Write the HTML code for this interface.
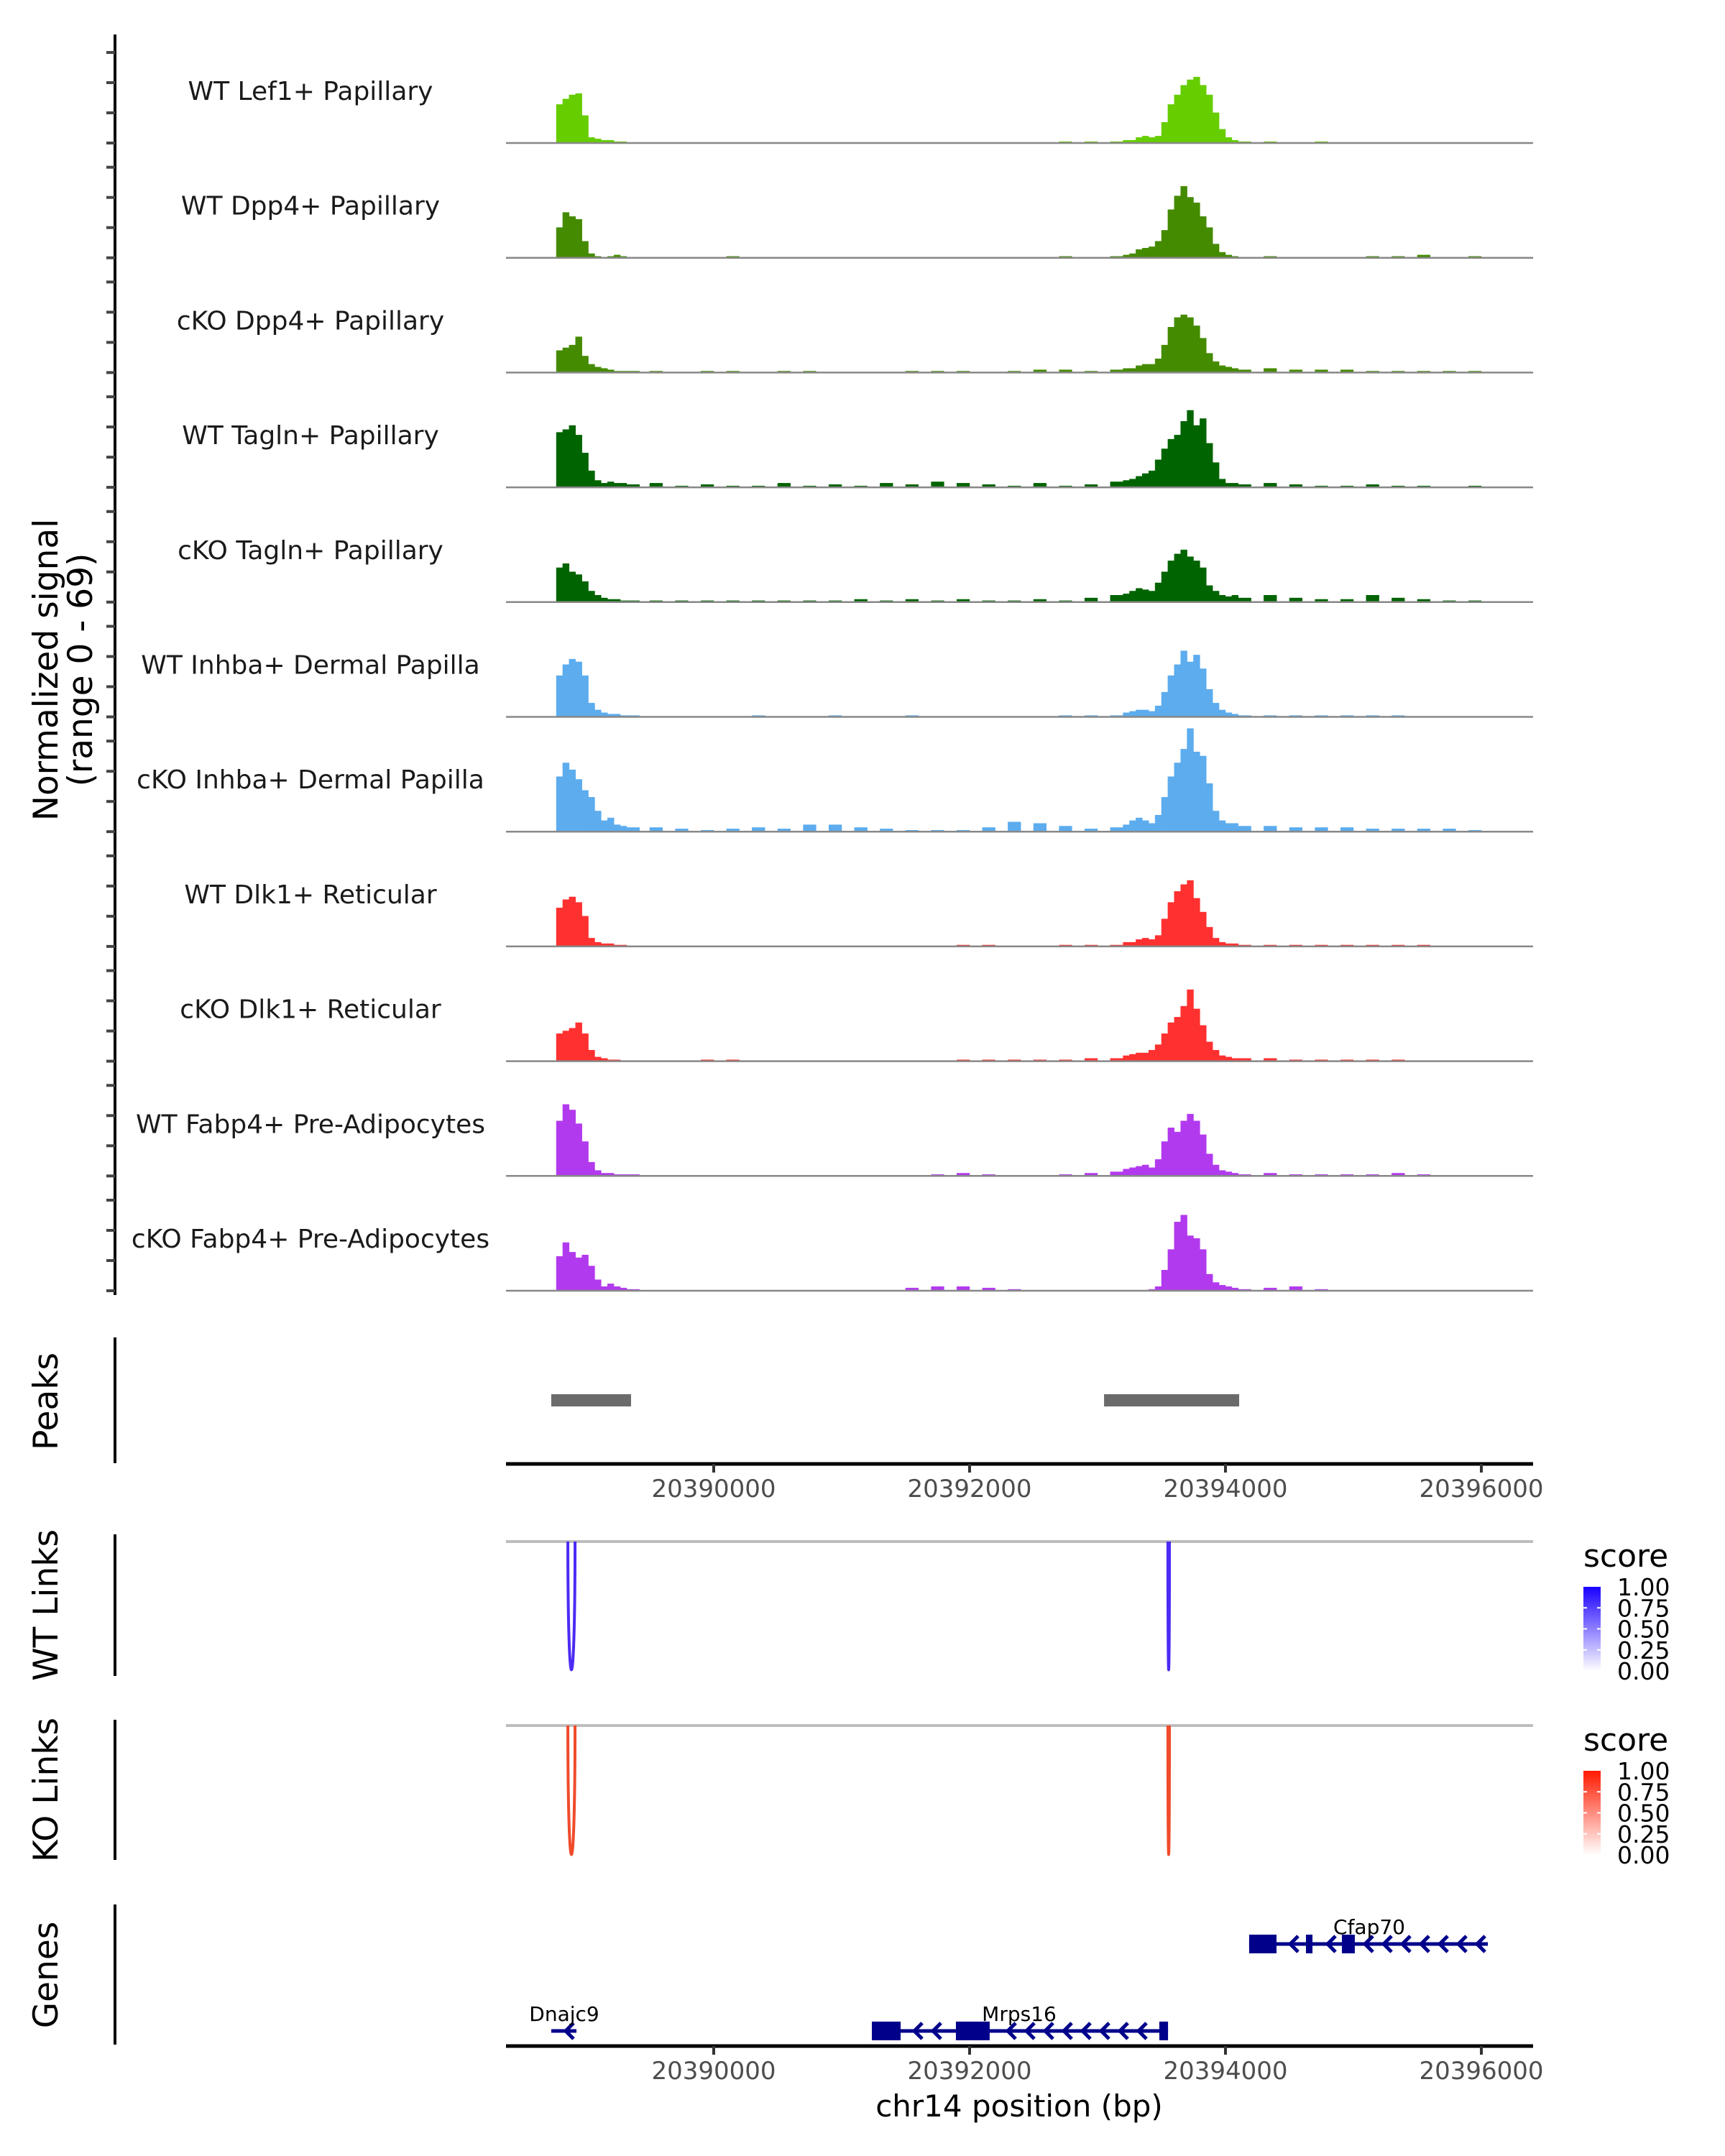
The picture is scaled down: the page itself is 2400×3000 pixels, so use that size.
<!DOCTYPE html>
<html><head><meta charset="utf-8"><title>Coverage plot</title>
<style>html,body{margin:0;padding:0;background:#fff}svg{display:block;font-family:"DejaVu Sans","Liberation Sans",sans-serif}</style>
</head><body>
<svg id="chart" xmlns="http://www.w3.org/2000/svg" width="2400" height="3000" viewBox="0 0 2400 3000"></svg>
<script>
// ---- data ----
const trackNames = ["WT Lef1+ Papillary","WT Dpp4+ Papillary","cKO Dpp4+ Papillary","WT Tagln+ Papillary","cKO Tagln+ Papillary","WT Inhba+ Dermal Papilla","cKO Inhba+ Dermal Papilla","WT Dlk1+ Reticular","cKO Dlk1+ Reticular","WT Fabp4+ Pre-Adipocytes","cKO Fabp4+ Pre-Adipocytes"];
const trackColors = ["#66CD00","#458B00","#458B00","#006400","#006400","#5CACEE","#5CACEE","#FF3030","#FF3030","#B23AEE","#B23AEE"];
const binStarts = [20388770,20388820,20388870,20388920,20388970,20389020,20389070,20389120,20389170,20389220,20389270,20389320,
 20389500,20389700,20389900,20390100,20390300,20390500,20390700,20390900,20391100,20391300,20391500,20391700,20391900,20392100,20392300,20392500,20392700,20392900,20393100,
 20393200,20393250,20393300,20393350,20393400,20393450,20393500,20393550,20393600,20393650,20393700,20393750,20393800,20393850,20393900,20393950,20394000,20394050,20394100,
 20394300,20394500,20394700,20394900,20395100,20395300,20395500,20395700,20395900,20396000];
const sig0 = [28,32,35,36,20,4,3,2,2,1,1,0, 0,0,0,0,0,0,0,0,0,0,0,0,0,0,0,0,1,1,1, 2,2,4,5,4,5,15,28,35,42,46,48,42,35,22,10,4,2,1, 1,0,1,0,0,0,0,0,0,0];
const sig1 = [22,33,30,28,12,3,1,0,1,2,1,0, 0,0,0,1,0,0,0,0,0,0,0,0,0,0,0,0,1,0,1, 2,3,6,7,8,12,20,35,45,52,44,40,30,22,10,4,2,1,0, 1,0,0,0,1,1,2,0,1,0];
const sig2 = [16,18,20,26,12,6,4,3,2,1,1,1, 1,0,1,1,0,1,1,0,0,0,1,1,1,0,1,2,2,1,2, 3,3,5,6,6,10,20,33,40,42,40,34,25,14,8,5,4,3,2, 3,2,2,2,1,1,1,1,1,0];
const sig3 = [40,42,45,38,25,12,5,3,4,3,3,2, 3,1,2,1,1,3,1,2,1,3,2,4,3,2,1,3,1,2,4, 5,6,8,10,12,20,28,35,38,48,56,45,50,32,18,6,3,3,2, 3,2,1,1,2,1,1,0,1,0];
const sig4 = [25,28,22,20,15,8,5,3,2,2,1,1, 1,1,1,1,1,1,1,1,2,1,2,1,2,1,1,2,1,3,5, 6,8,10,9,8,14,22,30,35,38,33,30,25,12,8,5,4,5,3, 5,3,2,2,5,3,2,1,1,0];
const sig5 = [30,38,42,40,30,10,5,3,2,2,1,1, 0,0,0,0,1,0,0,1,0,0,1,0,0,0,0,0,1,1,1, 3,4,5,5,4,8,18,30,38,48,40,45,35,20,10,5,3,2,1, 1,1,1,1,1,1,0,0,0,0];
const sig6 = [40,50,45,38,30,25,15,8,10,5,4,3, 3,2,1,2,3,2,5,5,3,2,1,1,1,3,7,6,4,2,3, 5,8,10,8,6,12,25,40,50,60,75,58,55,35,15,8,6,6,4, 4,3,3,3,2,2,2,2,1,0];
const sig7 = [28,34,36,32,22,6,3,2,2,1,1,0, 0,0,0,0,0,0,0,0,0,0,0,0,1,1,0,0,1,1,1, 3,3,5,6,5,8,20,32,40,45,48,35,25,14,6,3,2,2,1, 1,1,1,1,1,1,1,0,0,0];
const sig8 = [20,22,24,28,20,8,3,2,1,1,0,0, 0,0,1,1,0,0,0,0,0,0,0,0,1,1,1,1,1,2,2, 4,5,6,6,8,12,20,28,32,40,52,38,26,14,8,4,3,2,2, 2,1,1,1,1,1,0,0,0,0];
const sig9 = [40,52,48,38,25,10,4,2,2,1,1,1, 0,0,0,0,0,0,0,0,0,0,0,1,2,1,0,0,1,2,3, 5,6,7,8,6,12,25,35,32,40,45,40,30,16,8,4,3,2,1, 2,1,1,1,1,2,1,0,0,0];
const sig10 = [25,35,28,24,26,18,8,3,5,3,2,1, 0,0,0,0,0,0,0,0,0,0,2,3,3,2,1,0,0,0,0, 0,0,0,0,1,3,15,30,50,55,40,38,30,12,6,4,3,2,1, 2,3,1,0,0,0,0,0,0,0];
const signals = [sig0,sig1,sig2,sig3,sig4,sig5,sig6,sig7,sig8,sig9,sig10];
const peakStarts = [20388730,20393051];
const peakEnds = [20389354,20394107];
const wtLinkStarts = [20388860,20393550];
const wtLinkEnds = [20388916,20393562];
const koLinkStarts = [20388860,20393550];
const koLinkEnds = [20388916,20393562];
const xTicks = [20390000,20392000,20394000,20396000];
const legendLabels = ["1.00","0.75","0.50","0.25","0.00"];
const geneNames = ["Cfap70","Mrps16","Dnajc9"];
const geneStarts = [20394185,20391236,20388730];
const geneEnds = [20396051,20393551,20388927];
const geneRows = [0,1,1];
const geneExons = [[[20394185,20394399],[20394629,20394680],[20394910,20395011]],[[20391236,20391461],[20391893,20392157],[20393483,20393551]],[]];

// ---- scales ----
const X0 = 993, BP0 = 20390000, PXBP = 0.178;
function xs(bp){ return X0 + (bp - BP0) * PXBP; }
const AX_L = 704, AX_R = 2133;
const BASE0 = 199, TRACK_H = 159.7, PXU = 1.913;
const BIN_BP = 100;
function ys(i, v){ return BASE0 + i * TRACK_H - v * PXU; }

const NS = "http://www.w3.org/2000/svg";
const svg = document.getElementById("chart");
function mk(tag, attrs, parent){ const e = document.createElementNS(NS, tag); for (const k in attrs) e.setAttribute(k, attrs[k]); (parent||svg).appendChild(e); return e; }

// left axis for coverage
let e = mk("line", {x1:160,y1:48,x2:160,y2:1802,stroke:"#000","stroke-width":4});


for (let i = 0; i < 11; i++) {
  for (let k = 0; k < 4; k++) {
    const yy = BASE0 + i*TRACK_H - k*42;
    const t = mk("line", {x1:148,y1:yy,x2:160,y2:yy,stroke:"#444","stroke-width":4});
    
    
  }
}
e = mk("text", {transform:"translate(80,932) rotate(-90)","text-anchor":"middle","font-size":47,fill:"#000"});
e.textContent = "Normalized signal";


e = mk("text", {transform:"translate(128,932) rotate(-90)","text-anchor":"middle","font-size":47,fill:"#000"});
e.textContent = "(range 0 - 69)";



// tracks
for (let i = 0; i < 11; i++) {
  const base = ys(i, 0);
  const vals = signals[i];
  let d = "";
  for (let j = 0; j < vals.length; j++) {
    const s = binStarts[j];
    const nxt = j + 1 < binStarts.length ? binStarts[j+1] : s + BIN_BP;
    const en = Math.min(nxt, s + BIN_BP);
    const a = xs(s), b = xs(en);
    const y = ys(i, vals[j]);
    d += "M" + a + "," + base + " L" + a + "," + y + " L" + b + "," + y + " L" + b + "," + base + " Z ";
  }
  const p = mk("path", {d:d, fill:trackColors[i], stroke:trackColors[i], "stroke-width":0.5});
  
  
  const bl = mk("line", {x1:AX_L,y1:base,x2:AX_R,y2:base,stroke:"#888","stroke-width":2.5});
  
  
  const lab = mk("text", {x:432,y:base-60,"text-anchor":"middle","font-size":36,fill:"#1a1a1a"});
  lab.textContent = trackNames[i];
  
  
}

// panel helper
function panelTitle(txt, cy, y1, y2, name){
  const l = mk("line", {x1:160,y1:y1,x2:160,y2:y2,stroke:"#000","stroke-width":4});
  
  
  const t = mk("text", {transform:"translate(80,"+cy+") rotate(-90)","text-anchor":"middle","font-size":47,fill:"#000"});
  t.textContent = txt;
  
  
}
function xAxis(y, name){
  const l = mk("line", {x1:AX_L,y1:y,x2:AX_R,y2:y,stroke:"#000","stroke-width":5});
  
  
  for (const tk of xTicks) {
    const t = mk("line", {x1:xs(tk),y1:y,x2:xs(tk),y2:y+12,stroke:"#333","stroke-width":4});
    
    
    const tx = mk("text", {x:xs(tk),y:y+46,"text-anchor":"middle","font-size":34,fill:"#4d4d4d"});
    tx.textContent = tk;
    
    
  }
}

// peaks
panelTitle("Peaks", 1950, 1861, 2036, "peaks");
for (let i = 0; i < peakStarts.length; i++) {
  const r = mk("rect", {x:xs(peakStarts[i]),y:1940,width:xs(peakEnds[i])-xs(peakStarts[i]),height:17,fill:"#6b6b6b"});
  
  
}
xAxis(2037, "peaks-x-axis");

// links
function linksPanel(title, topY, bottomArc, y1, y2, starts, ends, color, gradId, lightColor, name){
  panelTitle(title, (y1+y2)/2, y1, y2, name);
  const g = mk("line", {x1:AX_L,y1:topY,x2:AX_R,y2:topY,stroke:"#bebebe","stroke-width":4});
  
  
  for (let i = 0; i < starts.length; i++) {
    const a = xs(starts[i]), b = xs(ends[i]);
    const depth = bottomArc - topY;
    const d = "M"+a+","+topY+" C"+a+","+(topY+depth*1.33)+" "+b+","+(topY+depth*1.33)+" "+b+","+topY;
    const p = mk("path", {d:d, fill:"none", stroke:color, "stroke-width":4});
    
    
  }
  const defs = mk("defs", {});
  const lg = mk("linearGradient", {id:gradId,x1:0,y1:1,x2:0,y2:0}, defs);
  mk("stop", {offset:0,"stop-color":"#ffffff"}, lg);
  mk("stop", {offset:1,"stop-color":lightColor}, lg);
  const st = mk("text", {x:2203,y:topY+35,"font-size":44,fill:"#000"});
  st.textContent = "score";
  
  
  const cbTop = topY + 63, cbH = 117;
  const cb = mk("rect", {x:2203,y:cbTop,width:24,height:cbH,fill:"url(#"+gradId+")"});
  
  
  for (let k = 0; k < legendLabels.length; k++) {
    const yy = cbTop + k * cbH / 4;
    if (k > 0 && k < 4) {
      const t1 = mk("line", {x1:2203,y1:yy,x2:2208,y2:yy,stroke:"#fff","stroke-width":2});
      
      
      const t2 = mk("line", {x1:2222,y1:yy,x2:2227,y2:yy,stroke:"#fff","stroke-width":2});
      
      
    }
    const lt = mk("text", {x:2250,y:yy+12,"font-size":33,fill:"#000"});
    lt.textContent = legendLabels[k];
    
    
  }
}
linksPanel("WT Links", 2145, 2324, 2135, 2332, wtLinkStarts, wtLinkEnds, "#4B2BF5", "gradWT", "#1a00ff", "wt-links");
linksPanel("KO Links", 2401, 2581, 2393, 2588, koLinkStarts, koLinkEnds, "#F04B2B", "gradKO", "#ff1a00", "ko-links");

// genes
panelTitle("Genes", 2748, 2650, 2845, "genes");
const rowY = [2705, 2826];
for (let g = 0; g < geneNames.length; g++) {
  const y = rowY[geneRows[g]];
  const a = xs(geneStarts[g]), b = xs(geneEnds[g]);
  const ln = mk("line", {x1:a,y1:y,x2:b,y2:y,stroke:"#00008B","stroke-width":5});
  
  
  const ex = geneExons[g];
  for (let cx = b - 10; cx > a + 6; cx -= 26) {
    let inEx = false;
    for (const r of ex) { if (cx > xs(r[0]) - 4 && cx < xs(r[1]) + 8) inEx = true; }
    if (inEx) continue;
    const ch = mk("polyline", {points:(cx+6)+","+(y-11)+" "+(cx-5)+","+y+" "+(cx+6)+","+(y+11),fill:"none",stroke:"#00008B","stroke-width":5});
    
    
  }
  for (const r of ex) {
    const re = mk("rect", {x:xs(r[0]),y:y-13,width:xs(r[1])-xs(r[0]),height:26,fill:"#00008B"});
    
    
  }
  const lx = g === 0 ? 1905 : (g === 1 ? 1418 : 785);
  const t = mk("text", {x:lx,y:y-14,"text-anchor":"middle","font-size":28,fill:"#000"});
  t.textContent = geneNames[g];
  
  
}
xAxis(2847, "genes-x-axis");
e = mk("text", {x:1418,y:2945,"text-anchor":"middle","font-size":42,fill:"#000"});
e.textContent = "chr14 position (bp)";


</script>
</body></html>
